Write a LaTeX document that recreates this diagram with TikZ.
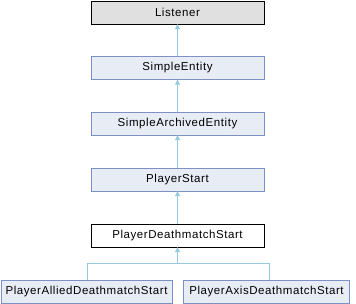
\documentclass[tikz,border=0pt]{standalone}
\usepackage{fontspec}
\setmainfont[LetterSpace=5]{Liberation Sans}
\usepackage{tikz}
\usetikzlibrary{positioning, arrows.meta}
\definecolor{boxBlue}{RGB}{232,236,245}
\definecolor{edgeBlue}{RGB}{124,146,198}
\definecolor{listenerGray}{RGB}{224,224,224}
\definecolor{lineBlue}{RGB}{150,200,228}

\begin{document}
\begin{tikzpicture}[x=1pt, y=-1pt,
  cls/.style={draw=edgeBlue, fill=boxBlue, minimum height=23pt, inner sep=0pt,
              font=\fontsize{11.5}{13}\selectfont},
  top/.style={cls, draw=black, fill=listenerGray},
  cur/.style={cls, draw=black, fill=white},
  inh/.style={draw=lineBlue, semithick, -{Triangle[length=5pt, width=5pt]}},
]
  \useasboundingbox (0,0) rectangle (356,304);
  \node[top, minimum width=173pt] (listener)    at (177.5, 12.5) {Listener};
  \node[cls, minimum width=173pt] (simpleEnt)   at (177.5, 68)   {SimpleEntity};
  \node[cls, minimum width=173pt] (archivedEnt) at (177.5, 123.5) {SimpleArchivedEntity};
  \node[cls, minimum width=173pt] (playerStart) at (177.5, 179.5) {PlayerStart};
  \node[cur, minimum width=173pt] (dmStart)     at (177.5, 235.5) {PlayerDeathmatchStart};
  \node[cls, minimum width=171pt] (alliedStart) at (86.5, 291.5)  {PlayerAlliedDeathmatchStart};
  \node[cls, minimum width=166pt] (axisStart)   at (266.5, 291.5) {PlayerAxisDeathmatchStart};

  \draw[inh] (simpleEnt) -- (listener);
  \draw[inh] (archivedEnt) -- (simpleEnt);
  \draw[inh] (playerStart) -- (archivedEnt);
  \draw[inh] (dmStart) -- (playerStart);
  % fork below PlayerDeathmatchStart
  \coordinate (split)     at (177.5, 263);
  \coordinate (alliedTop) at (87, 280);
  \coordinate (axisTop)   at (269, 280);
  \draw[inh] (alliedTop) |- (split) -- (dmStart);
  \draw[draw=lineBlue, semithick] (axisTop) |- (split);
\end{tikzpicture}
\end{document}
